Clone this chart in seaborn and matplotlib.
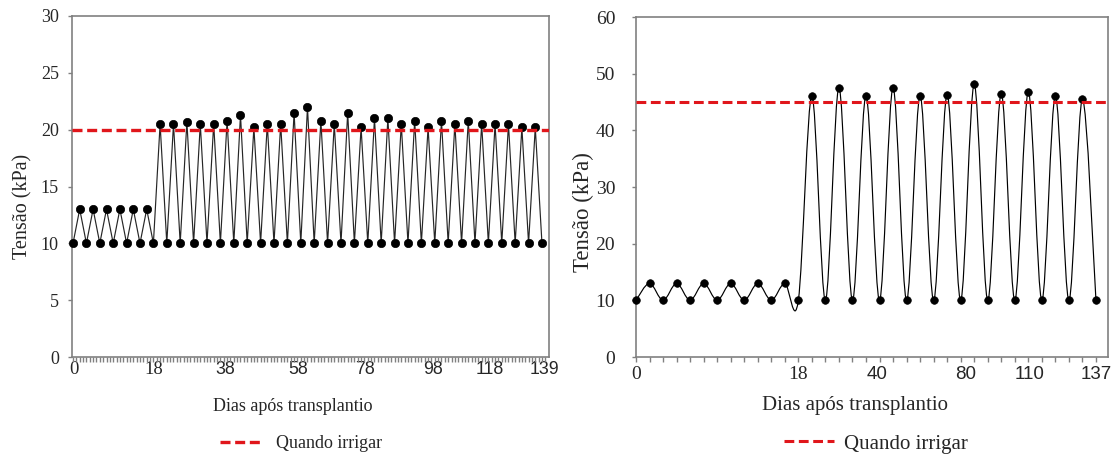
import numpy as np
import matplotlib
matplotlib.use("Agg")
import matplotlib.pyplot as plt
from matplotlib.path import Path
from matplotlib.patches import PathPatch
import seaborn as sns

# ---- Panel A: daily tension readings (kPa) ----
tensao_a = [10, 13, 10, 13, 10, 13, 10, 13, 10, 13, 10, 13, 10,
            20.5, 10, 20.5, 10, 20.7, 10, 20.5, 10, 20.5, 10, 20.8, 10,
            21.3, 10, 20.2, 10, 20.5, 10, 20.5, 10, 21.5, 10, 22.0, 10,
            20.8, 10, 20.5, 10, 21.5, 10, 20.2, 10, 21.0, 10, 21.0, 10,
            20.5, 10, 20.8, 10, 20.2, 10, 20.8, 10, 20.5, 10, 20.8, 10,
            20.5, 10, 20.5, 10, 20.5, 10, 20.2, 10, 20.2, 10]
dias_a_pos = [0.15, 12.1, 22.7, 33.6, 43.6, 53.7, 62.2, 70.4]
dias_a_lab = ["0", "18", "38", "58", "78", "98", "118", "139"]
limite_a = 20

# ---- Panel B ----
tensao_b = [10, 13, 10, 13, 10, 13, 10, 13, 10, 13, 10, 13, 10,
            46.1, 10, 47.5, 10, 46.1, 10, 47.5, 10, 46.1, 10, 46.3, 10,
            48.1, 10, 46.5, 10, 46.8, 10, 46.1, 10, 45.5, 10]
dias_b_pos = [0, 12, 17.8, 24.4, 29.1, 34]
dias_b_lab = ["0", "18", "40", "80", "110", "137"]
limite_b = 45

legenda = "Quando irrigar"
eixo_x = "Dias após transplantio"
eixo_y = "Tensão (kPa)"

RED = "#e0161b"
GRAY = "#808080"

sns.set_theme(style="ticks")
plt.rcParams["font.family"] = ["Liberation Serif", "DejaVu Serif"]

W, H = 1116, 457
fig = plt.figure(figsize=(W / 100, H / 100), dpi=100)
ax1 = fig.add_axes([72 / W, 1 - 357 / H, 477 / W, 341 / H])
ax2 = fig.add_axes([636 / W, 1 - 357 / H, 472 / W, 340 / H])


def smooth_path(xs, ys, k=1 / 6):
    """Cubic Bezier path through every point (Catmull-Rom style tangents)."""
    pts = np.column_stack([xs, ys]).astype(float)
    n = len(pts)
    verts, codes = [pts[0]], [Path.MOVETO]
    for i in range(n - 1):
        p0 = pts[i - 1] if i > 0 else pts[i]
        p1, p2 = pts[i], pts[i + 1]
        p3 = pts[i + 2] if i + 2 < n else pts[i + 1]
        verts += [p1 + (p2 - p0) * k, p2 - (p3 - p1) * k, p2]
        codes += [Path.CURVE4] * 3
    return Path(verts, codes)


def style_axes(ax, ylim, ystep, xlim, minor, pos, lab, ylab_size,
               ypad, xpad, serif_n=2, serif_size=13.5, sans_size=12.5):
    ax.set_ylim(*ylim)
    ax.set_yticks(np.arange(ylim[0], ylim[1] + 0.1, ystep))
    ax.set_xlim(*xlim)
    ax.xaxis.remove_overlapping_locs = False
    ax.set_xticks(pos)
    ax.set_xticklabels(lab)
    ax.set_xticks(minor, minor=True)
    for s in ax.spines.values():
        s.set_visible(True)
        s.set_color(GRAY)
        s.set_linewidth(1.2)
    ax.tick_params(axis="y", which="major", direction="out", length=3, width=1,
                   color=GRAY, labelsize=ylab_size, pad=ypad, left=True)
    ax.tick_params(axis="x", which="major", length=0, pad=xpad, bottom=True)
    ax.tick_params(axis="x", which="minor", direction="out", length=3.5,
                   width=1, color=GRAY, bottom=True)
    for i, t in enumerate(ax.get_xticklabels()):
        if i < serif_n:
            t.set_fontfamily(["Liberation Serif"])
            t.set_fontsize(serif_size)
        else:
            t.set_fontfamily(["Liberation Sans"])
            t.set_fontsize(sans_size)
    for t in ax.get_yticklabels():
        t.set_fontfamily(["Liberation Serif"])
    ax.grid(False)


# ---- Panel A drawing ----
x_a = np.arange(len(tensao_a))
sns.lineplot(x=x_a, y=tensao_a, ax=ax1, color="#262626", linewidth=0.85,
             marker="o", markersize=6, markerfacecolor="black",
             markeredgecolor="black", markeredgewidth=0.5, clip_on=False,
             zorder=3)
h1 = ax1.axhline(limite_a, color=RED, lw=2.4, dashes=(3.0, 1.4), zorder=4,
                 label=legenda)
style_axes(ax1, (0, 30), 5, (-0.15, 71.05), np.arange(0, 71, 0.5),
           dias_a_pos, dias_a_lab, ylab_size=13,
           ypad=6.5, xpad=2.8, serif_size=13.5, sans_size=12.8)
ax1.set_xlabel(eixo_x, fontsize=13)
ax1.xaxis.label.set_va("center")
ax1.xaxis.set_label_coords(0.4633, -0.1437)
ax1.set_ylabel(eixo_y, fontsize=14.5)
ax1.yaxis.label.set(va="center", ha="center")
ax1.yaxis.set_label_coords(-0.1027, 0.4428)
ax1.legend(handles=[h1], loc="center", frameon=False, fontsize=13,
           handlelength=2.25, handletextpad=0.9,
           bbox_to_anchor=(301 / W, 1 - 444 / H),
           bbox_transform=fig.transFigure)

# ---- Panel B drawing ----
x_b = np.arange(len(tensao_b))
ax2.add_patch(PathPatch(smooth_path(x_b, tensao_b), facecolor="none",
                        edgecolor="black", lw=0.85, zorder=2))
sns.scatterplot(x=x_b, y=tensao_b, ax=ax2, color="black", s=30,
                edgecolor="black", linewidth=0.5, clip_on=False, zorder=3)
h2 = ax2.axhline(limite_b, color=RED, lw=2.2, dashes=(3.2, 1.5), zorder=4,
                 label=legenda)
style_axes(ax2, (0, 60), 10, (0, 34.89), np.arange(0, 35, 1),
           dias_b_pos, dias_b_lab, ylab_size=14,
           ypad=12, xpad=6.5, serif_size=14, sans_size=13.5)
ax2.set_xlabel(eixo_x, fontsize=15)
ax2.xaxis.label.set_va("center")
ax2.xaxis.set_label_coords(0.464, -0.1441)
ax2.set_ylabel(eixo_y, fontsize=16.5)
ax2.yaxis.label.set(va="center", ha="center")
ax2.yaxis.set_label_coords(-0.1123, 0.4265)
ax2.legend(handles=[h2], loc="center", frameon=False, fontsize=15,
           handlelength=2.4, handletextpad=0.5,
           bbox_to_anchor=(876 / W, 1 - 444 / H),
           bbox_transform=fig.transFigure)

fig.savefig("out.png", dpi=100, facecolor="white")
